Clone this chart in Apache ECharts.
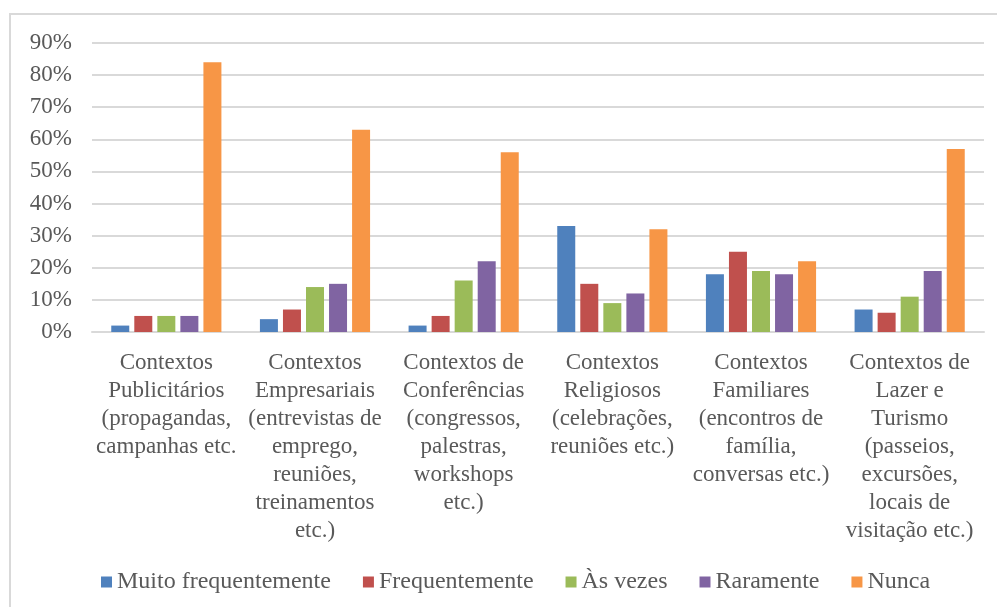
<!DOCTYPE html>
<html>
<head>
<meta charset="utf-8">
<script src="https://cdn.jsdelivr.net/npm/echarts@6/dist/echarts.min.js"></script>
<style>
  html, body { margin: 0; padding: 0; background: #fff; }
  #chart { width: 997px; height: 607px; }
</style>
</head>
<body>
<div id="chart"></div>
<script>
// Contexts of use (category labels, broken over lines as printed)
const categories = [
  'Contextos\nPublicitários\n(propagandas,\ncampanhas etc.',
  'Contextos\nEmpresariais\n(entrevistas de\nemprego,\nreuniões,\ntreinamentos\netc.)',
  'Contextos de\nConferências\n(congressos,\npalestras,\nworkshops\netc.)',
  'Contextos\nReligiosos\n(celebrações,\nreuniões etc.)',
  'Contextos\nFamiliares\n(encontros de\nfamília,\nconversas etc.)',
  'Contextos de\nLazer e\nTurismo\n(passeios,\nexcursões,\nlocais de\nvisitação etc.)'
];

// Frequency answers, in percent
const muitoFrequentemente = [2, 4, 2, 33, 18, 7];
const frequentemente      = [5, 7, 5, 15, 25, 6];
const asVezes             = [5, 14, 16, 9, 19, 11];
const raramente           = [5, 15, 22, 12, 18, 19];
const nunca               = [84, 63, 56, 32, 22, 57];

const seriesNames = ['Muito frequentemente', 'Frequentemente', 'Às vezes', 'Raramente', 'Nunca'];
const seriesData = [muitoFrequentemente, frequentemente, asVezes, raramente, nunca];
const colors = ['#4F81BD', '#C0504D', '#9BBB59', '#8064A2', '#F79646'];

const yTicks = { min: 0, max: 90, interval: 10 };

const font = '"Liberation Serif", "Times New Roman", serif';
const textColor = '#595959';

const chart = echarts.init(document.getElementById('chart'), null, { renderer: 'canvas' });

chart.setOption({
  animation: false,
  color: colors,
  graphic: [{
    type: 'rect',
    shape: { x: 10, y: 14, width: 1000, height: 620 },
    style: { fill: 'none', stroke: '#d9d9d9', lineWidth: 2 },
    silent: true
  }],
  grid: { left: 92, right: 13, top: 43, height: 289 },
  legend: {
    data: seriesNames,
    left: 96,
    top: 565,
    icon: 'rect',
    itemWidth: 11,
    itemHeight: 11,
    itemGap: 32,
    textStyle: { fontFamily: font, fontSize: 24, color: textColor }
  },
  xAxis: {
    type: 'category',
    data: categories,
    axisLine: { lineStyle: { color: '#d9d9d9', width: 2 } },
    axisTick: { show: false },
    axisLabel: {
      interval: 0,
      margin: 17,
      fontFamily: font,
      fontSize: 23,
      lineHeight: 28,
      color: textColor,
      align: 'center'
    }
  },
  yAxis: {
    type: 'value',
    min: yTicks.min,
    max: yTicks.max,
    interval: yTicks.interval,
    axisLine: { show: false },
    axisTick: { show: false },
    splitLine: { lineStyle: { color: '#d9d9d9', width: 2 } },
    axisLabel: {
      margin: 20,
      fontFamily: font,
      fontSize: 23,
      color: textColor,
      formatter: '{value}%'
    }
  },
  series: seriesNames.map((name, i) => ({
    name: name,
    type: 'bar',
    data: seriesData[i],
    barWidth: 18,
    barGap: '28%',
    itemStyle: { color: colors[i] }
  }))
});
</script>
</body>
</html>
